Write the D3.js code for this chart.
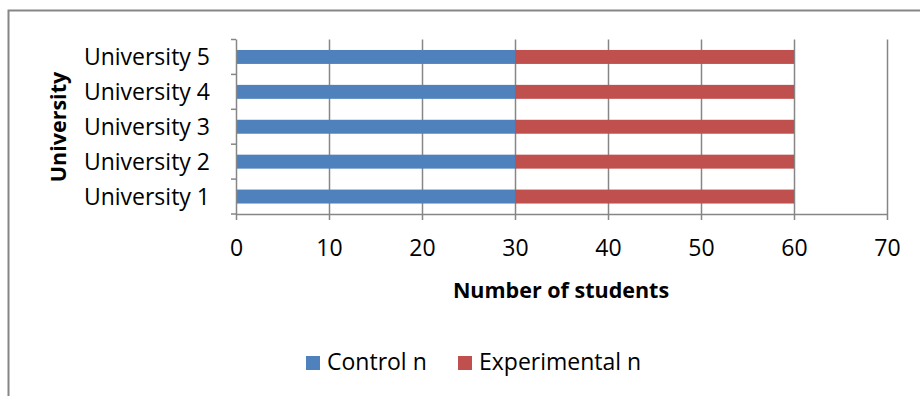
<!DOCTYPE html>
<html>
<head>
<meta charset="utf-8">
<script src="https://cdn.jsdelivr.net/npm/d3@7"></script>
<style>
  html, body { margin: 0; padding: 0; background: #fff; }
  svg { display: block; }
  text { font-family: "Open Sans", sans-serif; fill: #000; }
</style>
</head>
<body>
<svg id="chart" width="920" height="396"></svg>
<script>
// Students per university, split by group
const universities = ["University 1", "University 2", "University 3", "University 4", "University 5"];
const controlN = [30, 30, 30, 30, 30];
const experimentalN = [30, 30, 30, 30, 30];
const seriesNames = ["Control n", "Experimental n"];
const xTicks = [0, 10, 20, 30, 40, 50, 60, 70];

const colors = ["#4F81BD", "#C0504D"];
const gridColor = "#868686";
const fontFamily = "'Open Sans', sans-serif";
const labelSize = 23;
const titleSize = 21.5;

const svg = d3.select("#chart");

// Outer chart frame
svg.append("path")
  .attr("d", "M8.5,396 V10.5 H920")
  .attr("fill", "none")
  .attr("stroke", gridColor)
  .attr("stroke-width", 2);

const plot = { left: 236, right: 887, top: 39.5, bottom: 214 };

const x = d3.scaleLinear().domain([0, 70]).range([plot.left, plot.right]);
const y = d3.scaleBand()
  .domain(universities.slice().reverse())
  .range([plot.top, plot.bottom])
  .paddingInner(0.6)
  .paddingOuter(0.3);

const rows = universities.map((u, i) => ({ u, control: controlN[i], experimental: experimentalN[i] }));
const stack = d3.stack().keys(["control", "experimental"])(rows);

// Vertical gridlines
svg.append("g")
  .selectAll("line")
  .data(xTicks.slice(1))
  .join("line")
  .attr("x1", d => Math.round(x(d)) + 0.5)
  .attr("x2", d => Math.round(x(d)) + 0.5)
  .attr("y1", plot.top)
  .attr("y2", plot.bottom)
  .attr("stroke", gridColor)
  .attr("stroke-width", 1.5);

// Stacked bars
svg.append("g")
  .selectAll("g")
  .data(stack)
  .join("g")
  .attr("fill", (d, i) => colors[i])
  .selectAll("rect")
  .data(d => d)
  .join("rect")
  .attr("x", d => x(d[0]))
  .attr("width", d => x(d[1]) - x(d[0]))
  .attr("y", d => y(d.data.u))
  .attr("height", y.bandwidth());

// X axis
const xAxis = svg.append("g")
  .attr("transform", `translate(0,${plot.bottom})`)
  .call(d3.axisBottom(x).tickValues(xTicks).tickSize(6).tickSizeOuter(0).tickPadding(20));
xAxis.select(".domain").attr("stroke", gridColor).attr("stroke-width", 1.5);
xAxis.selectAll(".tick line").attr("stroke", gridColor).attr("stroke-width", 1.5);
xAxis.selectAll(".tick text")
  .attr("font-size", labelSize)
  .attr("font-family", fontFamily)
  .attr("fill", "#000");

// Y axis: band boundaries carry the tick marks
const yAxisG = svg.append("g");
yAxisG.append("line")
  .attr("x1", plot.left + 0.5).attr("x2", plot.left + 0.5)
  .attr("y1", plot.top).attr("y2", plot.bottom)
  .attr("stroke", gridColor).attr("stroke-width", 1.5);
const bounds = d3.range(universities.length + 1).map(i => plot.top + i * (plot.bottom - plot.top) / universities.length);
yAxisG.selectAll("line.tk")
  .data(bounds)
  .join("line")
  .attr("class", "tk")
  .attr("x1", plot.left - 5).attr("x2", plot.left)
  .attr("y1", d => d).attr("y2", d => d)
  .attr("stroke", gridColor).attr("stroke-width", 1.5);
yAxisG.selectAll("text")
  .data(universities)
  .join("text")
  .attr("x", 210)
  .attr("y", d => y(d) + y.bandwidth() / 2)
  .attr("dy", "0.36em")
  .attr("text-anchor", "end")
  .attr("font-size", labelSize)
  .text(d => d);

// Axis titles
svg.append("text")
  .attr("x", 561)
  .attr("y", 298)
  .attr("text-anchor", "middle")
  .attr("font-size", titleSize)
  .attr("font-weight", "bold")
  .text("Number of students");

svg.append("text")
  .attr("transform", "translate(66,127) rotate(-90)")
  .attr("text-anchor", "middle")
  .attr("font-size", titleSize)
  .attr("font-weight", "bold")
  .text("University");

// Legend
const legendPos = [306, 458];
const legend = svg.append("g");
seriesNames.forEach((name, i) => {
  legend.append("rect")
    .attr("x", legendPos[i]).attr("y", 356)
    .attr("width", 14).attr("height", 14)
    .attr("fill", colors[i]);
  legend.append("text")
    .attr("x", legendPos[i] + 21).attr("y", 370)
    .attr("font-size", labelSize)
    .text(name);
});
</script>
</body>
</html>
